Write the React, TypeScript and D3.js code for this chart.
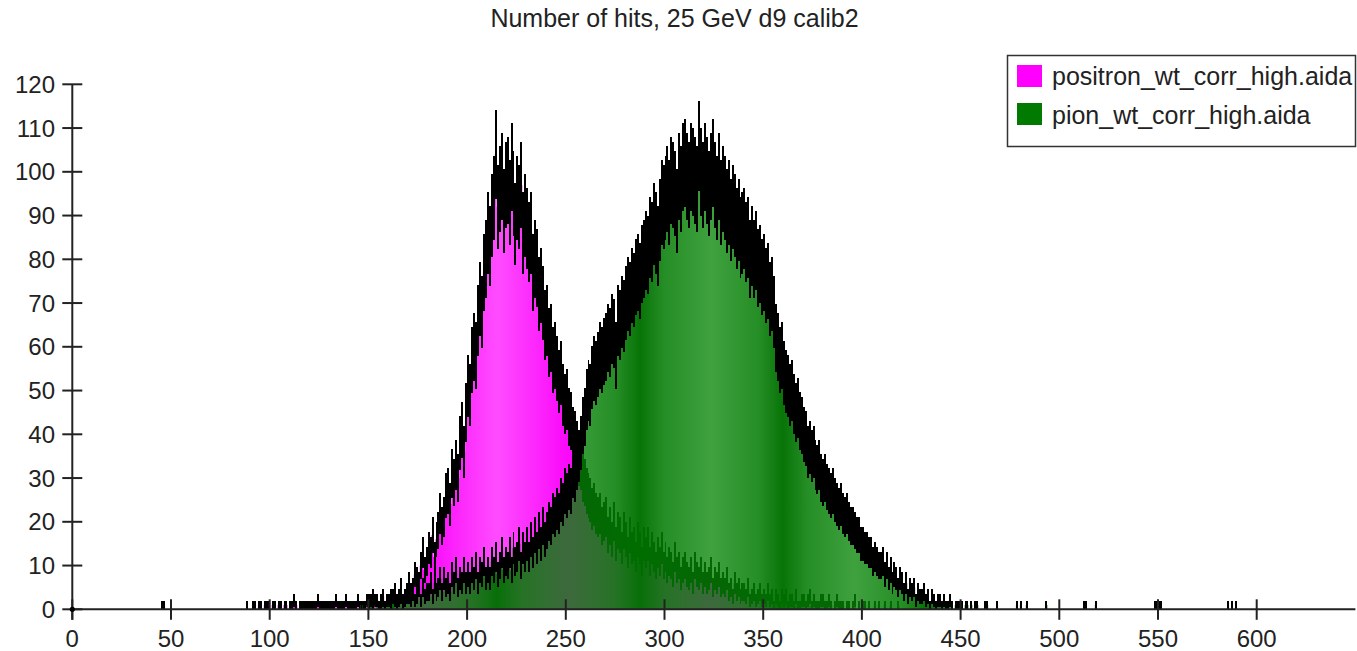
import React, { useMemo } from "react";
import * as d3 from "d3";

// ---- chart text ----
const TITLE = "Number of hits, 25 GeV d9 calib2";
const SERIES_NAMES = ["positron_wt_corr_high.aida", "pion_wt_corr_high.aida"];
const X_TICKS = [0, 50, 100, 150, 200, 250, 300, 350, 400, 450, 500, 550, 600];
const Y_TICKS = [0, 10, 20, 30, 40, 50, 60, 70, 80, 90, 100, 110, 120];

// ---- histogram contents (unit-width bins, first bin given by *Start) ----
const positronStart = 88;
const positronCounts = [
  1, 0, 0, 1, 1, 0, 1, 1, 0, 1, 1, 1,
  0, 1, 1, 0, 1, 1, 0, 1, 1, 0,
  1, 1, 2, 1, 0, 1, 1, 1, 1, 1,
  1, 1, 1, 1, 2, 1, 1, 1, 1, 1,
  1, 1, 1, 2, 1, 1, 1, 1, 2, 1,
  1, 1, 1, 1, 2, 1, 1, 1, 1, 2,
  2, 1, 3, 2, 2, 1, 2, 3, 1, 2,
  2, 3, 1, 4, 2, 3, 5, 2, 3, 4,
  6, 4, 5, 8, 7, 6, 10, 13, 9, 11,
  14, 13, 17, 12, 16, 18, 22, 19, 21, 26,
  27, 24, 31, 29, 33, 30, 38, 41, 36, 45,
  51, 49, 57, 60, 58, 66, 71, 68, 77, 80,
  86, 83, 90, 94, 104, 92, 96, 99, 91, 97,
  98, 93, 101, 95, 88, 94, 92, 97, 86, 90,
  87, 84, 86, 77, 80, 78, 72, 74, 70, 65,
  66, 61, 62, 57, 58, 55, 52, 54, 49, 47,
  48, 44, 43, 40, 39, 37, 34, 33, 30, 29,
  27, 26, 25, 23, 24, 22, 21, 22, 19, 20,
  21, 17, 19, 16, 20, 15, 18, 17, 14, 18,
  16, 13, 17, 14, 15, 12, 16, 14, 11, 15,
  13, 15, 11, 14, 12, 10, 13, 11, 14, 10,
  12, 9, 11, 10, 8, 12, 9, 10, 7, 9,
  10, 8, 7, 9, 6, 10, 8, 7, 9, 6,
  8, 6, 7, 9, 5, 7, 6, 8, 5, 6,
  5, 7, 4, 5, 3, 6, 4, 5, 3, 4,
  4, 3, 5, 2, 3, 4, 2, 3, 4, 2,
  3, 2, 4, 2, 3, 1, 3, 2, 1, 3,
  2, 3, 1, 2, 2, 1, 3, 1, 1, 2,
  2, 1, 2, 3, 1, 2, 1, 1, 1, 2,
  2, 1, 1, 2, 1, 0, 1, 2, 1, 1,
  1, 0, 1, 1, 0, 1, 2, 0, 1, 0,
  1, 1, 0, 1, 0, 0, 1, 0, 1, 0,
  0, 1, 0, 0, 1, 0, 0, 0, 1, 0,
];
const positronSingles = [45, 46];

const pionStart = 145;
const pionCounts = [
  0, 1, 0, 1, 0,
  1, 2, 1, 0, 2, 1, 1, 2, 1, 2,
  2, 1, 3, 2, 1, 2, 3, 1, 2, 3,
  3, 2, 4, 2, 3, 5, 2, 5, 3, 4,
  4, 6, 3, 6, 4, 5, 7, 4, 7, 5,
  6, 4, 8, 6, 9, 5, 7, 6, 9, 6,
  8, 6, 9, 7, 10, 6, 9, 8, 11, 7,
  9, 7, 11, 9, 12, 8, 10, 13, 9, 11,
  10, 13, 9, 14, 11, 12, 15, 10, 14, 12,
  15, 12, 16, 13, 17, 14, 18, 15, 19, 16,
  18, 20, 19, 22, 21, 23, 22, 25, 24, 27,
  26, 28, 27, 31, 30, 33, 35, 38, 42, 44,
  48, 50, 49, 53, 55, 54, 56, 58, 57, 59,
  60, 62, 61, 64, 63, 58, 66, 65, 68, 67,
  70, 72, 71, 74, 73, 76, 77, 75, 79, 80,
  82, 81, 85, 84, 88, 86, 83, 89, 93, 92,
  94, 96, 93, 98, 97, 95, 91, 99, 96, 101,
  102, 99, 97, 101, 100, 98, 96, 106, 100, 97,
  101, 98, 95, 99, 102, 97, 94, 99, 93, 96,
  94, 91, 93, 89, 92, 90, 87, 89, 85, 86,
  87, 84, 85, 80, 83, 80, 82, 78, 79, 76,
  77, 74, 75, 71, 72, 68, 62, 60, 57, 58,
  54, 52, 51, 49, 50, 47, 45, 46, 43, 42,
  40, 39, 36, 37, 35, 36, 33, 32, 33, 30,
  29, 30, 28, 27, 26, 27, 25, 24, 23, 24,
  22, 21, 22, 20, 19, 19, 18, 17, 17, 15,
  15, 14, 14, 13, 13, 11, 12, 11, 10, 10,
  11, 8, 10, 7, 9, 6, 8, 7, 5, 7,
  6, 4, 6, 3, 5, 4, 5, 2, 4, 3,
  3, 4, 2, 3, 1, 3, 2, 1, 2, 2,
  1, 2, 1, 1, 2, 1, 0, 1, 1, 1,
  1, 0, 1, 1, 0, 1, 0, 1, 1, 0,
];
const pionSingles = [462, 463, 468, 478, 480, 483, 493, 512, 513, 518, 548, 549, 550, 551, 585, 587, 589];

// ---- layout ----
const W = 1357;
const H = 651;
const X_MAX = 650;
const FONT = "'Liberation Sans', Arial, Helvetica, sans-serif";
const INK = "#222";

type Bin = { x: number; c: number };

function buildBins(start: number, counts: number[], singles: number[]): Bin[] {
  const full = new Array(X_MAX).fill(0);
  counts.forEach((c, i) => {
    if (start + i < X_MAX) full[start + i] = c;
  });
  singles.forEach((s) => {
    full[s] = 1;
  });
  return full.map((c, i) => ({ x: i, c }));
}

export default function App() {
  const x = useMemo(() => d3.scaleLinear().domain([0, X_MAX]).range([72.3, 72.3 + X_MAX * 1.974]), []);
  const y = useMemo(() => d3.scaleLinear().domain([0, 120]).range([609.3, 84.3]), []);

  const positron = useMemo(() => buildBins(positronStart, positronCounts, positronSingles), []);
  const pion = useMemo(() => buildBins(pionStart, pionCounts, pionSingles), []);

  const stepArea = (bins: Bin[]) => {
    const pts = bins.concat([{ x: X_MAX, c: 0 }]);
    return (
      d3
        .area<Bin>()
        .curve(d3.curveStepAfter)
        .x((d) => x(d.x))
        .y0(y(0))
        .y1((d) => y(d.c))(pts) || ""
    );
  };

  // Poisson error bars, one bin wide
  const errorBars = (bins: Bin[]) => {
    const p = d3.path();
    bins.forEach((b) => {
      if (b.c <= 0) return;
      const e = Math.sqrt(b.c);
      const x0 = x(b.x);
      const x1 = x(b.x + 1);
      const yt = y(b.c + e);
      const yb = y(Math.max(0, b.c - e));
      p.rect(x0, yt, x1 - x0, yb - yt);
    });
    return p.toString();
  };

  const y0 = y(0);
  const xAxisEnd = x(X_MAX);

  return (
    <svg
      width={W}
      height={H}
      style={{ position: "absolute", left: 0, top: 0, background: "#fff" }}
      fontFamily={FONT}
    >
      <defs>
        <linearGradient id="pionFill" gradientUnits="userSpaceOnUse" x1={640} y1={0} x2={711.5} y2={0} spreadMethod="reflect">
          <stop offset="0" stopColor="#007000" stopOpacity={0.97} />
          <stop offset="0.35" stopColor="#037c03" stopOpacity={0.86} />
          <stop offset="1" stopColor="#058505" stopOpacity={0.77} />
        </linearGradient>
        <linearGradient id="positronFill" gradientUnits="userSpaceOnUse" x1={497} y1={0} x2={568} y2={0} spreadMethod="reflect">
          <stop offset="0" stopColor="#ff4cff" />
          <stop offset="1" stopColor="#fa08fa" />
        </linearGradient>
      </defs>

      {/* title */}
      <text x={674.5} y={27} textAnchor="middle" fontSize={25} fill={INK}>
        {TITLE}
      </text>

      {/* histograms */}
      <path d={stepArea(positron)} fill="url(#positronFill)" />
      <path d={errorBars(positron)} fill="#000" shapeRendering="crispEdges" />
      <path d={stepArea(pion)} fill="url(#pionFill)" />
      <path d={errorBars(pion)} fill="#000" shapeRendering="crispEdges" />

      {/* y axis */}
      <line x1={x(0)} x2={x(0)} y1={y(120)} y2={y0 + 10.5} stroke={INK} strokeWidth={2} />
      {Y_TICKS.map((t) => (
        <g key={"y" + t}>
          <line x1={x(0) - 10} x2={x(0) + 10} y1={y(t)} y2={y(t)} stroke={INK} strokeWidth={2} />
          <text x={55} y={y(t) + 8.5} textAnchor="end" fontSize={24} fill={INK}>
            {t}
          </text>
        </g>
      ))}

      {/* x axis */}
      <line x1={x(0)} x2={xAxisEnd} y1={y0} y2={y0} stroke={INK} strokeWidth={2} />
      {X_TICKS.map((t) => (
        <g key={"x" + t}>
          <line x1={x(t)} x2={x(t)} y1={y0 - 10} y2={y0 + 10.5} stroke={INK} strokeWidth={2} />
          <text x={x(t)} y={647} textAnchor="middle" fontSize={24} fill={INK}>
            {t}
          </text>
        </g>
      ))}
      <circle cx={x(0)} cy={y0} r={2.6} fill="#000" />

      {/* legend */}
      <rect x={1007.5} y={55.5} width={348} height={91} fill="#fff" stroke="#333" strokeWidth={1.5} />
      <rect x={1017} y={65} width={25} height={22} fill="#ff00ff" />
      <rect x={1017} y={103} width={25} height={22} fill="#007a00" />
      <text x={1052} y={85} fontSize={25} fill={INK}>
        {SERIES_NAMES[0]}
      </text>
      <text x={1052} y={123.5} fontSize={25} fill={INK}>
        {SERIES_NAMES[1]}
      </text>
    </svg>
  );
}
